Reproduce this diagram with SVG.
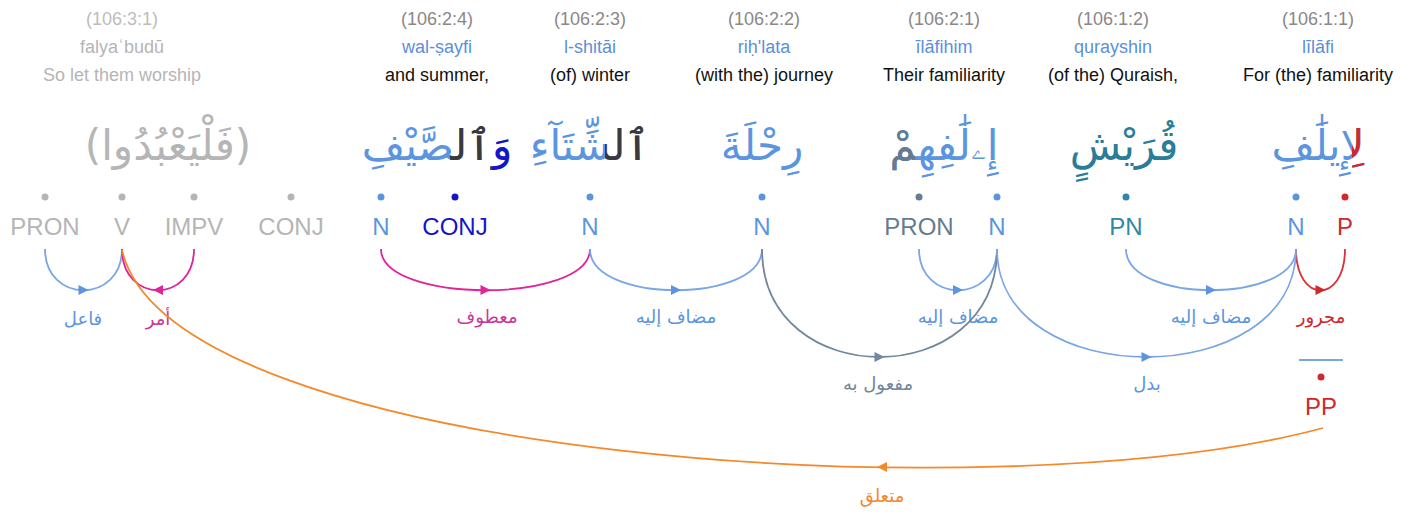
<svg xmlns="http://www.w3.org/2000/svg" xmlns:xlink="http://www.w3.org/1999/xlink" width="1413" height="512" viewBox="0 0 1413 512">
  <style>
    .loc { font: 18px "Liberation Sans", Arial, sans-serif; fill: #8b8787; text-anchor: middle; }
    .tr  { font: 18px "Liberation Sans", Arial, sans-serif; fill: #5c8fdb; text-anchor: middle; }
    .en  { font: 18px "Liberation Sans", Arial, sans-serif; fill: #111; text-anchor: middle; }
    .faded .loc { fill: #bdbdbd; }
    .faded .tr, .faded .en { fill: #b5b5b5; }
    .ar  { font-family: "DejaVu Sans", sans-serif; font-size: 42px; text-anchor: middle; }
    .pos { font: 24px "Liberation Sans", Arial, sans-serif; text-anchor: middle; }
    .lbl { font-family: "DejaVu Sans", sans-serif; font-size: 18px; text-anchor: middle; }
    path.arc { fill: none; stroke-width: 1.8; }
    /* fills */
    .f-n    { fill: #5b95e0; }
    .f-conj { fill: #1414c8; }
    .f-pron { fill: #667a90; }
    .f-pn   { fill: #2e88a6; }
    .f-p    { fill: #d0282e; }
    .f-grey { fill: #b5b5b5; }
    .f-mag  { fill: #e0249a; }
    .f-lmag { fill: #c8389a; }
    .f-obj  { fill: #7286a0; }
    .f-org  { fill: #f5882a; }
    .f-det  { fill: #3a3a3a; }
    /* strokes */
    .s-n    { stroke: #78a6e6; }
    .s-p    { stroke: #d6343a; }
    .s-mag  { stroke: #e0249a; }
    .s-obj  { stroke: #7286a0; }
    .s-org  { stroke: #f5882a; }
  </style>
  <defs>
    <path id="ah-r" d="M5,0 L-5,-5 L-5,5 Z"/>
    <path id="ah-l" d="M-5,0 L5,-5 L5,5 Z"/>
    <!-- regions used to recolour the prefix / suffix of joined Arabic words -->
    <clipPath id="clip-wa"><rect x="492" y="90" width="40" height="110"/></clipPath>
    <clipPath id="clip-al1"><rect x="450" y="90" width="42" height="110"/></clipPath>
    <clipPath id="clip-al2"><rect x="605" y="90" width="50" height="110"/></clipPath>
    <clipPath id="clip-him"><rect x="870" y="90" width="45" height="110"/></clipPath>
    <clipPath id="clip-li"><rect x="1352" y="90" width="40" height="110"/></clipPath>
  </defs>

  <rect width="1413" height="512" fill="#fff"/>

  <!-- word headers: location, transliteration, translation, Arabic form -->
  <g id="word-106-3-1" class="faded">
    <text class="loc" x="122" y="25">(106:3:1)</text>
    <text class="tr" x="122" y="53">falyaʿbudū</text>
    <text class="en" x="122" y="81">So let them worship</text>
    <text class="ar f-grey" x="168" y="160">(فَلْيَعْبُدُوا)</text>
  </g>
  <g id="word-106-2-4">
    <text class="loc" x="437" y="25">(106:2:4)</text>
    <text class="tr" x="437" y="53">wal-ṣayfi</text>
    <text class="en" x="437" y="81">and summer,</text>
    <text class="ar f-n" x="437" y="160">وَٱلصَّيْفِ</text>
    <text class="ar f-det" x="437" y="160" clip-path="url(#clip-al1)">وَٱلصَّيْفِ</text>
    <text class="ar f-conj" x="437" y="160" clip-path="url(#clip-wa)">وَٱلصَّيْفِ</text>
  </g>
  <g id="word-106-2-3">
    <text class="loc" x="590" y="25">(106:2:3)</text>
    <text class="tr" x="590" y="53">l-shitāi</text>
    <text class="en" x="590" y="81">(of) winter</text>
    <text class="ar f-n" x="590" y="160">ٱلشِّتَآءِ</text>
    <text class="ar f-det" x="590" y="160" clip-path="url(#clip-al2)">ٱلشِّتَآءِ</text>
  </g>
  <g id="word-106-2-2">
    <text class="loc" x="764" y="25">(106:2:2)</text>
    <text class="tr" x="764" y="53">riḥ'lata</text>
    <text class="en" x="764" y="81">(with the) journey</text>
    <text class="ar f-n" x="762" y="160">رِحْلَةَ</text>
  </g>
  <g id="word-106-2-1">
    <text class="loc" x="944" y="25">(106:2:1)</text>
    <text class="tr" x="944" y="53">īlāfihim</text>
    <text class="en" x="944" y="81">Their familiarity</text>
    <text class="ar f-n" x="944" y="160">إِۦلَٰفِهِمْ</text>
    <text class="ar f-pron" x="944" y="160" clip-path="url(#clip-him)">إِۦلَٰفِهِمْ</text>
  </g>
  <g id="word-106-1-2">
    <text class="loc" x="1113" y="25">(106:1:2)</text>
    <text class="tr" x="1113" y="53">qurayshin</text>
    <text class="en" x="1113" y="81">(of the) Quraish,</text>
    <text class="ar" x="1124" y="160" fill="#2a7d98">قُرَيْشٍ</text>
  </g>
  <g id="word-106-1-1">
    <text class="loc" x="1318" y="25">(106:1:1)</text>
    <text class="tr" x="1318" y="53">līlāfi</text>
    <text class="en" x="1318" y="81">For (the) familiarity</text>
    <text class="ar f-n" x="1318" y="160">لِإِيلَٰفِ</text>
    <text class="ar f-p" x="1318" y="160" clip-path="url(#clip-li)">لِإِيلَٰفِ</text>
  </g>

  <!-- part-of-speech nodes -->
  <g id="n-pron-1" class="f-grey"><circle cx="45" cy="197" r="3.5"/><text class="pos" x="45" y="235">PRON</text></g>
  <g id="n-v" class="f-grey"><circle cx="122" cy="197" r="3.5"/><text class="pos" x="122" y="235">V</text></g>
  <g id="n-impv" class="f-grey"><circle cx="194" cy="197" r="3.5"/><text class="pos" x="194" y="235">IMPV</text></g>
  <g id="n-conj-1" class="f-grey"><circle cx="291" cy="197" r="3.5"/><text class="pos" x="291" y="235">CONJ</text></g>
  <g id="n-n-sayf" class="f-n"><circle cx="381" cy="197" r="3.5"/><text class="pos" x="381" y="235">N</text></g>
  <g id="n-conj-2" class="f-conj"><circle cx="455" cy="197" r="3.5"/><text class="pos" x="455" y="235">CONJ</text></g>
  <g id="n-n-shita" class="f-n"><circle cx="590" cy="197" r="3.5"/><text class="pos" x="590" y="235">N</text></g>
  <g id="n-n-rihla" class="f-n"><circle cx="762" cy="197" r="3.5"/><text class="pos" x="762" y="235">N</text></g>
  <g id="n-pron-2" class="f-pron"><circle cx="919" cy="197" r="3.5"/><text class="pos" x="919" y="235">PRON</text></g>
  <g id="n-n-ilaf" class="f-n"><circle cx="997" cy="197" r="3.5"/><text class="pos" x="997" y="235">N</text></g>
  <g id="n-pn" class="f-pn"><circle cx="1126" cy="197" r="3.5"/><text class="pos" x="1126" y="235">PN</text></g>
  <g id="n-n-lilaf" class="f-n"><circle cx="1296" cy="197" r="3.5"/><text class="pos" x="1296" y="235">N</text></g>
  <g id="n-p" class="f-p"><circle cx="1345" cy="197" r="3.5"/><text class="pos" x="1345" y="235">P</text></g>
  <g id="n-pp">
    <line x1="1299" y1="360" x2="1343" y2="360" stroke="#78a6e6" stroke-width="2"/>
    <circle class="f-p" cx="1321" cy="377" r="3.5"/>
    <text class="pos f-p" x="1321" y="415">PP</text>
  </g>

  <!-- dependency arcs -->
  <g id="connectors">
    <path class="arc s-n" d="M45,249 C45,304 122,304 122,249"/>
    <use xlink:href="#ah-r" class="f-n" x="83.5" y="290"/>
    <text class="lbl f-n" x="83" y="325">فاعل</text>

    <path class="arc s-mag" d="M122,249 C122,304 194,304 194,249"/>
    <use xlink:href="#ah-l" class="f-mag" x="158" y="290"/>
    <text class="lbl f-lmag" x="158" y="325">أمر</text>

    <path class="arc s-mag" d="M381,249 C381,304 590,304 590,249"/>
    <use xlink:href="#ah-r" class="f-mag" x="485.5" y="290"/>
    <text class="lbl f-lmag" x="487" y="323">معطوف</text>

    <path class="arc s-n" d="M590,249 C590,304 762,304 762,249"/>
    <use xlink:href="#ah-r" class="f-n" x="676" y="290"/>
    <text class="lbl f-n" x="676" y="323">مضاف إليه</text>

    <path class="arc s-n" d="M919,249 C919,304 997,304 997,249"/>
    <use xlink:href="#ah-r" class="f-n" x="958" y="290"/>
    <text class="lbl f-n" x="958" y="323">مضاف إليه</text>

    <path class="arc s-n" d="M1126,249 C1126,304 1296,304 1296,249"/>
    <use xlink:href="#ah-r" class="f-n" x="1211" y="290"/>
    <text class="lbl f-n" x="1211" y="323">مضاف إليه</text>

    <path class="arc s-p" d="M1296,249 C1296,304 1345,304 1345,249"/>
    <use xlink:href="#ah-r" class="f-p" x="1320.5" y="290"/>
    <text class="lbl f-p" x="1321" y="323">مجرور</text>

    <path class="arc s-obj" d="M762,249 C762,393 997,393 997,249"/>
    <use xlink:href="#ah-r" class="f-obj" x="879.5" y="357"/>
    <text class="lbl f-obj" x="878" y="390">مفعول به</text>

    <path class="arc s-n" d="M997,249 C997,393 1296,393 1296,249"/>
    <use xlink:href="#ah-r" class="f-n" x="1146.5" y="357"/>
    <text class="lbl f-n" x="1147" y="390">بدل</text>

    <path class="arc s-org" d="M122,250 C170,460 1000,515 1323,428"/>
    <use xlink:href="#ah-l" class="f-org" x="882" y="467"/>
    <text class="lbl f-org" x="882" y="502">متعلق</text>
  </g>
</svg>
